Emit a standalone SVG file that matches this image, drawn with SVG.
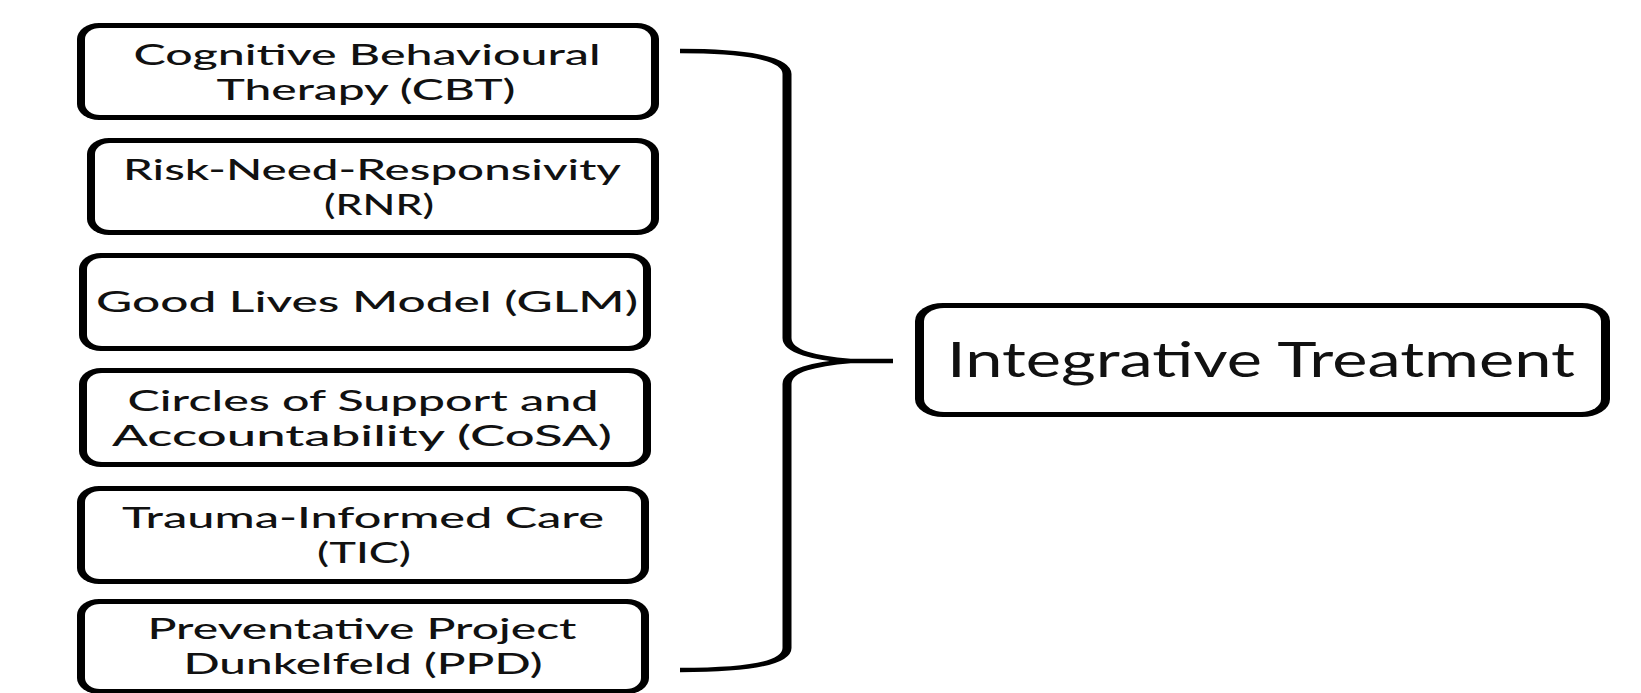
<svg xmlns="http://www.w3.org/2000/svg" width="1641" height="693" viewBox="0 0 1641 693">
  <style>
    .frame { fill: #000; }
    .face { fill: #fff; }
    .label { font-family: Lato, "Open Sans", "Noto Sans", sans-serif; font-size: 29px; font-weight: 500; fill: #111; text-anchor: middle; }
    .title { font-size: 48px; font-weight: 400; }
    .brace { fill: none; stroke: #000; stroke-width: 4.5; stroke-linejoin: round; }
  </style>
  <rect width="1641" height="693" fill="#fff"/>

  <!-- approach boxes: black outer shape + white inner face gives thick sides, thinner top/bottom -->
  <g id="node-cbt">
    <rect class="frame" x="77" y="23" width="582" height="97" rx="22" ry="16"/>
    <rect class="face" x="85" y="28" width="566" height="87" rx="15" ry="11"/>
    <text class="label" x="367" y="64.5" textLength="467" lengthAdjust="spacingAndGlyphs">Cognitive Behavioural</text>
    <text class="label" x="366" y="99.5" textLength="299" lengthAdjust="spacingAndGlyphs">Therapy (CBT)</text>
  </g>
  <g id="node-rnr">
    <rect class="frame" x="87" y="138" width="572" height="97" rx="22" ry="16"/>
    <rect class="face" x="95" y="143" width="556" height="87" rx="15" ry="11"/>
    <text class="label" x="372" y="179.5" textLength="498" lengthAdjust="spacingAndGlyphs">Risk-Need-Responsivity</text>
    <text class="label" x="379" y="214.5" textLength="110" lengthAdjust="spacingAndGlyphs">(RNR)</text>
  </g>
  <g id="node-glm">
    <rect class="frame" x="79" y="253" width="572" height="98" rx="22" ry="16"/>
    <rect class="face" x="87" y="258" width="556" height="88" rx="15" ry="11"/>
    <text class="label" x="367" y="312" textLength="542" lengthAdjust="spacingAndGlyphs">Good Lives Model (GLM)</text>
  </g>
  <g id="node-cosa">
    <rect class="frame" x="79" y="368" width="572" height="99" rx="22" ry="16"/>
    <rect class="face" x="87" y="373" width="556" height="89" rx="15" ry="11"/>
    <text class="label" x="363" y="410.5" textLength="471" lengthAdjust="spacingAndGlyphs">Circles of Support and</text>
    <text class="label" x="362" y="445.5" textLength="500" lengthAdjust="spacingAndGlyphs">Accountability (CoSA)</text>
  </g>
  <g id="node-tic">
    <rect class="frame" x="77" y="486" width="572" height="98" rx="22" ry="16"/>
    <rect class="face" x="85" y="491" width="556" height="88" rx="15" ry="11"/>
    <text class="label" x="363" y="528" textLength="482" lengthAdjust="spacingAndGlyphs">Trauma-Informed Care</text>
    <text class="label" x="364" y="563" textLength="94" lengthAdjust="spacingAndGlyphs">(TIC)</text>
  </g>
  <g id="node-ppd">
    <rect class="frame" x="77" y="599" width="572" height="95" rx="22" ry="16"/>
    <rect class="face" x="85" y="604" width="556" height="85" rx="15" ry="11"/>
    <text class="label" x="362" y="639" textLength="429" lengthAdjust="spacingAndGlyphs">Preventative Project</text>
    <text class="label" x="363" y="674" textLength="359" lengthAdjust="spacingAndGlyphs">Dunkelfeld (PPD)</text>
  </g>

  <g id="node-integrative">
    <rect class="frame" x="915" y="303" width="695" height="114" rx="28" ry="18"/>
    <rect class="face" x="924" y="308" width="677" height="104" rx="20" ry="13"/>
    <text class="label title" x="1261" y="377" textLength="628" lengthAdjust="spacingAndGlyphs">Integrative Treatment</text>
  </g>

  <!-- curly brace joining the six approaches; drawn at half width so the upright strokes come out heavier -->
  <g id="connectors">
    <g transform="scale(2 1)">
      <path class="brace" d="M340,51 C372.5,51 393.5,58 393.5,74 L393.5,338 C393.5,352 407.5,358 425,361 C407.5,364 393.5,370 393.5,384 L393.5,648 C393.5,664 372.5,670 340,670 M425,361 L446.5,361"/>
    </g>
  </g>
</svg>
